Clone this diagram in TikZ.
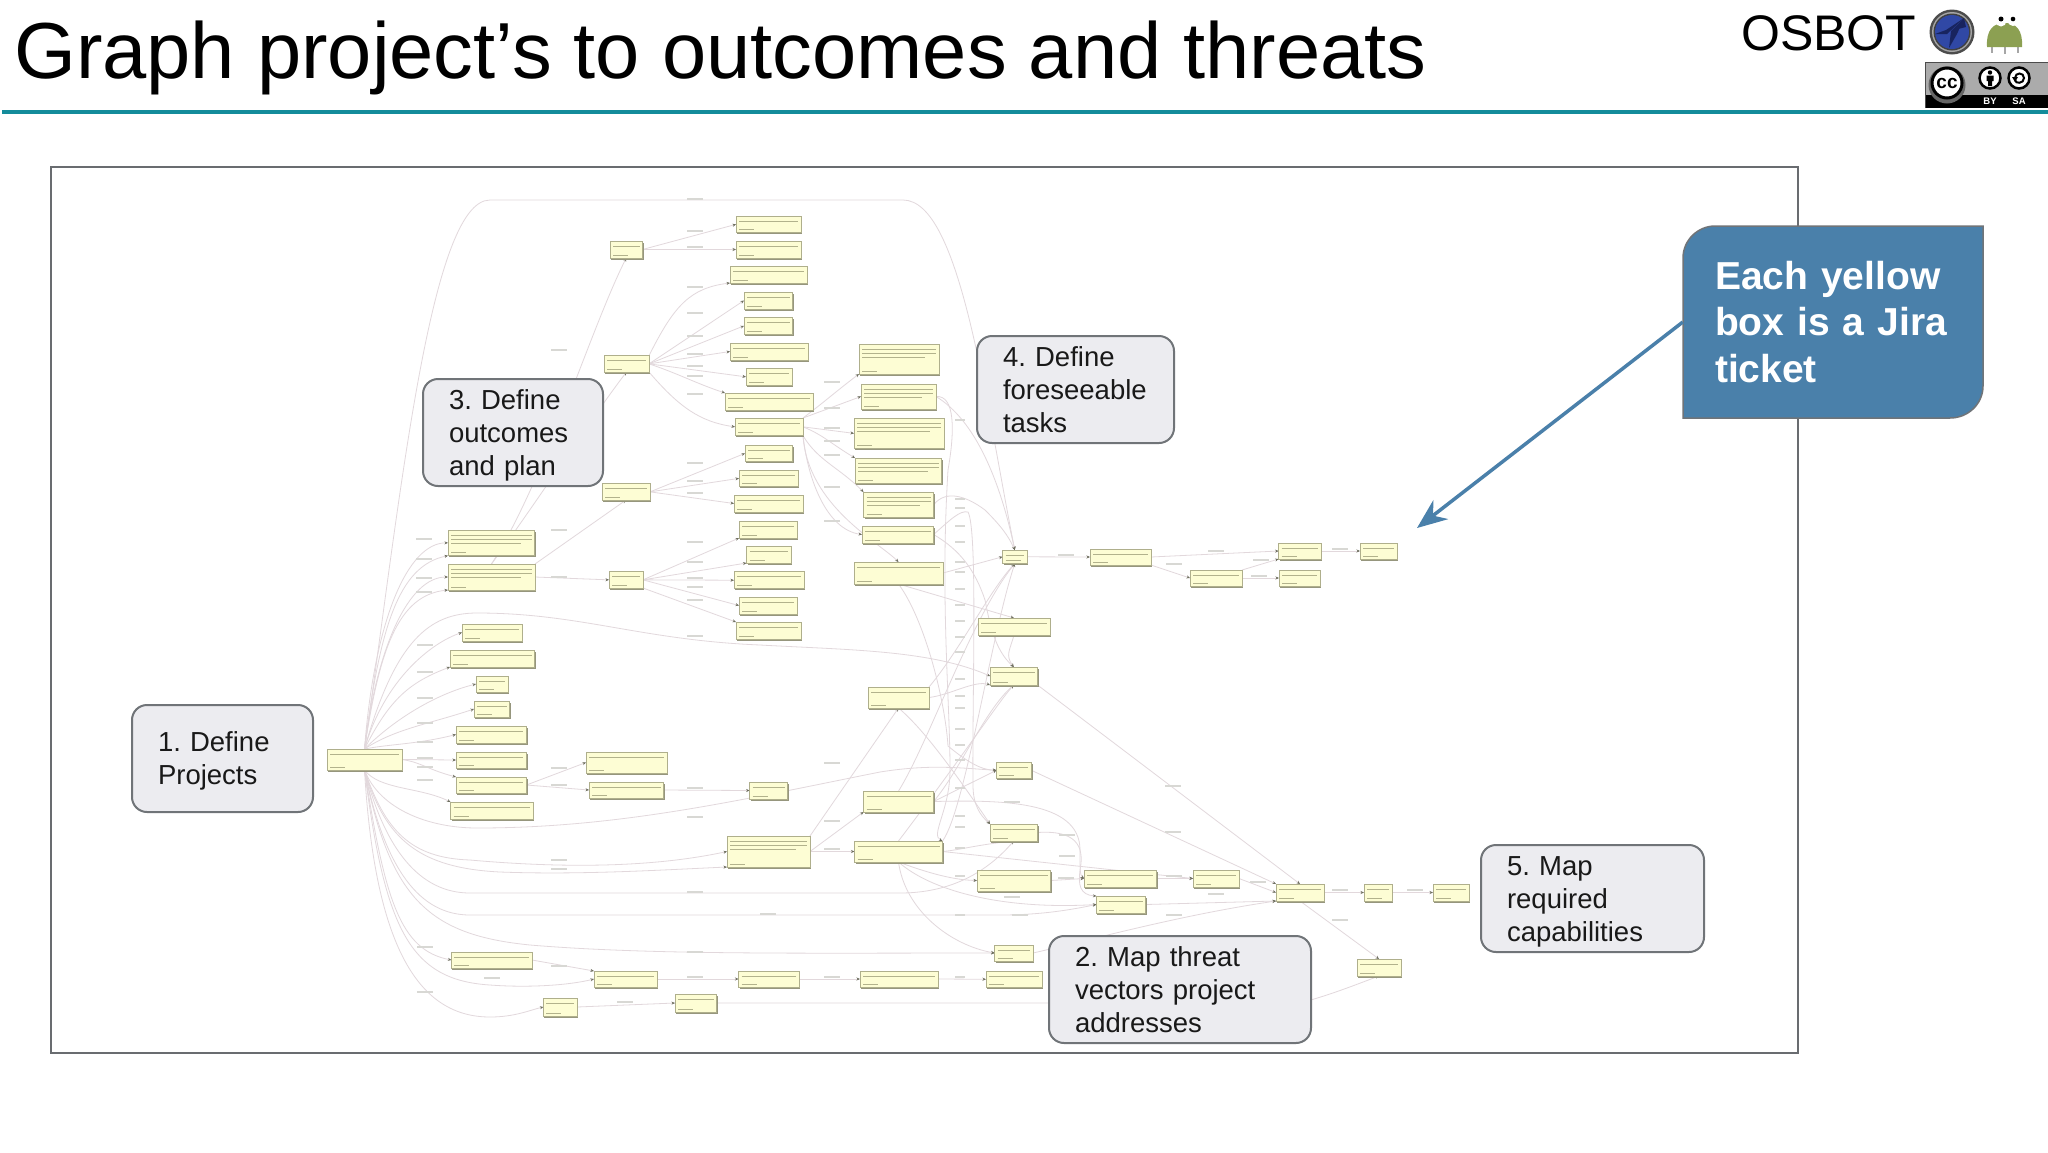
\documentclass[tikz,border=0pt]{standalone}
\usepackage{fontspec}
\setmainfont{Liberation Sans}
\frenchspacing
\usetikzlibrary{arrows.meta}
\definecolor{ecol}{RGB}{226,216,220}
\definecolor{arrc}{RGB}{110,110,95}
\definecolor{labc}{RGB}{216,216,212}
\definecolor{jfill}{RGB}{253,253,212}
\definecolor{jedge}{RGB}{175,175,140}
\definecolor{jshad}{RGB}{150,150,125}
\definecolor{jline}{RGB}{178,178,140}
\definecolor{calfill}{RGB}{236,236,240}
\definecolor{caledge}{RGB}{112,116,120}
\definecolor{bluec}{RGB}{74,128,170}
\definecolor{teal1}{RGB}{20,140,155}
\definecolor{framec}{RGB}{105,108,112}
\definecolor{orbblue}{RGB}{48,72,165}
\definecolor{orbdark}{RGB}{24,36,95}
\definecolor{frogc}{RGB}{140,160,82}
\pgfdeclarelayer{edgelayer}
\pgfdeclarelayer{bglayer}
\pgfsetlayers{bglayer,edgelayer,main}
\tikzset{
  ed/.style={draw=ecol,line width=0.8pt,-{Stealth[length=3.5pt,width=3pt,color=arrc]}},
  jbox/.style={draw=jedge,fill=jfill,line width=0.5pt,inner sep=0pt,outer sep=0pt,
    path picture={
      \draw[jline,line width=0.6pt] ([xshift=3pt,yshift=-5pt]path picture bounding box.north west) -- ([xshift=-3pt,yshift=-5pt]path picture bounding box.north east);
      \draw[jline,line width=0.6pt] ([xshift=3pt,yshift=3pt]path picture bounding box.south west) -- ([xshift=18pt,yshift=3pt]path picture bounding box.south west);
    }},
  jtall/.style={
    path picture={
      \draw[jline,line width=0.6pt] ([xshift=3pt,yshift=-5pt]path picture bounding box.north west) -- ([xshift=-3pt,yshift=-5pt]path picture bounding box.north east);
      \draw[jline,line width=0.6pt] ([xshift=3pt,yshift=-9pt]path picture bounding box.north west) -- ([xshift=-3pt,yshift=-9pt]path picture bounding box.north east);
      \draw[jline,line width=0.6pt] ([xshift=3pt,yshift=-13pt]path picture bounding box.north west) -- ([xshift=-14pt,yshift=-13pt]path picture bounding box.north east);
      \draw[jline,line width=0.6pt] ([xshift=3pt,yshift=3pt]path picture bounding box.south west) -- ([xshift=18pt,yshift=3pt]path picture bounding box.south west);
    }},
  callout/.style={draw=caledge,fill=calfill,line width=2pt,rounded corners=15pt,inner xsep=0pt,inner ysep=0pt,
    align=left,font=\fontsize{27.5}{33}\selectfont,text=black!90},
  edlab/.style={draw=labc,line width=1.5pt},
}
\newcommand\jb[6][]{%
  \fill[jshad] (#3+1,#4+1.5) rectangle (#5+1.2,#6+1.6);
  \node[jbox,#1,minimum width={(#5-#3)*1pt},minimum height={(#6-#4)*1pt}] (#2) at ({(#3+#5)/2},{(#4+#6)/2}) {};
}
\begin{document}
\begin{tikzpicture}[x=1pt,y=-1pt]
\useasboundingbox (0,0) rectangle (2048,1152);
\begin{pgfonlayer}{bglayer}
\fill[white] (0,0) rectangle (2048,1152);
\end{pgfonlayer}

% title
\node[anchor=base west,inner sep=0pt,font=\fontsize{79.5}{84}\selectfont] (title) at (14,78) {Graph project’s to outcomes and threats};
\coordinate (ruleL) at (2,112);
\coordinate (ruleR) at (2048,112);
\draw[teal1,line width=3.5pt] (ruleL) -- (ruleR);

% logo
\node[anchor=base west,inner sep=0pt,font=\fontsize{50}{52}\selectfont] (osbot) at (1741,50) {OSBOT};
\fill[black!70] (1952,32) circle (22.5);
\fill[black!35] (1952,32) circle (20);
\fill[black!75] (1952,32) circle (18.5);
\fill[orbblue] (1952,32) circle (17);
\fill[orbdark] (1964,18) -- (1946,30) -- (1935,34) -- (1947,34) -- cycle;
\fill[orbdark] (1964,18) -- (1951,31) -- (1949,48) -- (1957,34) -- cycle;
\fill[orbdark] (1964,18) -- (1954,30) -- (1966,27) -- cycle;
% frog
\draw[black!35,line width=2pt] (1992,45) -- (1992,53) (2005,45) -- (2005,54) (2018,45) -- (2018,53);
\fill[frogc] (1987,47) .. controls (1986,30) and (1993,23) .. (2005,23) .. controls (2016,23) and (2023,30) .. (2022,47) -- cycle;
\fill[white] (2001,21) circle (5.5) (2013,21) circle (5);
\fill[black] (2001,19) circle (2.5) (2013,19) circle (2.3);

% cc badge
\fill[black!33] (1925,62) rectangle (2048,95);
\fill[black] (1925,95) rectangle (2048,108);
\draw[black!70,line width=1pt] (1925,108) -- (1925,62) -- (2048,62);
\fill[black!60] (1947,85) circle (18.5);
\draw[black,fill=white,line width=3pt] (1947,83) circle (15);
\node[inner sep=0pt,font=\fontsize{19}{20}\selectfont\bfseries] (cclab) at (1947,83) {cc};
\draw[black,fill=white,line width=2.5pt] (1990,78) circle (10.5);
\fill[black] (1990,72.5) circle (2.2);
\fill[black] (1986.5,75.5) rectangle (1993.5,81) (1988,81) rectangle (1992,86);
\draw[black,fill=white,line width=2.5pt] (2019,78) circle (10.5);
\draw[black,line width=2pt] (2015,78) .. controls (2015,72) and (2024,72) .. (2024,78) .. controls (2024,84) and (2015,84) .. (2015,80);
\fill[black] (2012,77) -- (2018,77) -- (2015,82) -- cycle;
\node[inner sep=0pt,text=white,font=\fontsize{9.5}{10}\selectfont\bfseries] (bylab) at (1990,101.5) {BY};
\node[inner sep=0pt,text=white,font=\fontsize{9.5}{10}\selectfont\bfseries] (salab) at (2019,101.5) {SA};

% frame
\draw[framec,line width=2pt] (51,167) rectangle (1798,1053);

% yellow boxes
\jb{m}{327}{749}{402}{770}
\jb{p1}{610}{241}{642.5}{258}
\jb{p2}{604}{355.7}{649}{372}
\jb{p3}{602}{483.7}{650}{500}
\jb{p4}{609}{571.7}{643}{588}
\jb{t1}{736}{216}{801}{232.7}
\jb{t2}{736}{241}{801}{258}
\jb{t3}{730}{266.7}{807}{283}
\jb{t4}{744}{292}{792.5}{309}
\jb{t5}{744}{317.7}{792.5}{334}
\jb{t6}{730}{343}{808}{360}
\jb{t7}{746}{368.7}{792}{385}
\jb{t8}{725}{393}{813}{410}
\jb{t9}{735}{418}{803}{435.7}
\jb{t10}{745}{445}{792.5}{461.7}
\jb{t11}{739}{470}{798}{486.7}
\jb{t12}{734}{495}{803}{512}
\jb{t13}{739}{521.7}{797}{538}
\jb{t14}{746.5}{546.7}{791}{563}
\jb{t15}{734}{571.7}{804}{588.7}
\jb{t16}{739}{597}{797}{614}
\jb{t17}{736}{622}{801}{639}
\jb[jtall]{r1}{859}{344}{939}{374}
\jb[jtall]{r2}{861}{384}{936}{409}
\jb[jtall]{r3}{854}{418.7}{944}{448}
\jb[jtall]{r4}{855}{458}{941.6}{483}
\jb[jtall]{r5}{863.5}{492}{933.6}{517.7}
\jb{r6}{862}{526}{933.6}{543}
\jb{r7}{854}{562}{943}{584}
\jb[jtall]{c1}{448}{530}{534.5}{555.7}
\jb[jtall]{c2}{448}{564}{535}{590}
\jb{d1}{462}{624}{522}{641}
\jb{d2}{450}{650}{534.5}{667}
\jb{d3}{476}{676}{508}{692}
\jb{d4}{474}{701}{509.5}{717}
\jb{d5}{456}{726}{526.4}{743}
\jb{d6}{456}{752}{526.4}{768}
\jb{d7}{456}{777}{526.4}{793}
\jb{d8}{450.5}{802}{533}{819}
\jb{e1}{586}{752}{667}{773}
\jb{e2}{589}{782}{663.5}{798}
\jb{e3}{749.6}{782}{787.6}{799}
\jb{f1}{868}{687}{929}{708}
\jb{f2}{863.5}{791}{933.6}{812}
\jb[jtall]{f3}{727}{836}{810}{867}
\jb{f4}{854.5}{841}{942.5}{862}
\jb{h1}{451.4}{952}{532}{968}
\jb{h2}{594}{971}{657}{987}
\jb{h3}{738.5}{971}{799}{987}
\jb{h4}{860}{971}{938}{987}
\jb{h5}{986}{971}{1042}{987.5}
\jb{i1}{543.4}{998}{577}{1016}
\jb{i2}{675}{994}{716.6}{1012}
\jb{g1}{1002.5}{550}{1027}{563.6}
\jb{g2}{978}{618}{1050}{635}
\jb{g3}{990}{667}{1037.5}{685}
\jb{g4}{996.4}{762}{1031.4}{778.6}
\jb{g5}{990}{824}{1037.5}{841}
\jb{j1}{1090}{549}{1151}{565}
\jb{j2}{1190}{570}{1242}{586}
\jb{j3}{1278.6}{543}{1321}{559}
\jb{j4}{1279}{570}{1320}{586}
\jb{j5}{1360}{543}{1397}{559}
\jb{k1}{977}{870}{1050.7}{891}
\jb{k2}{1084}{870}{1156.4}{887}
\jb{k3}{1193}{870}{1239}{887}
\jb{k4}{1096.4}{896}{1145.7}{913}
\jb{l1}{1276}{884}{1324}{901}
\jb{l2}{1364}{884}{1392}{901}
\jb{l3}{1433}{884}{1469}{901}
\jb{n1}{994.6}{945}{1033}{961}
\jb{n2}{1357}{959}{1401}{976}

% connectors
\begin{pgfonlayer}{edgelayer}
% fan from the project ticket
\draw[ed] (m.north) .. controls +(10,-130) and +(-40,0) .. (c1.west);
\draw[ed] (m.north) .. controls +(15,-120) and +(-50,10) .. (c1.south west);
\draw[ed] (m.north) .. controls +(12,-100) and +(-40,0) .. (c2.west);
\draw[ed] (m.north) .. controls +(15,-100) and +(-50,5) .. (c2.south west);
\draw[ed] (m.north) .. controls +(20,-70) and +(-30,10) .. (d1.west);
\draw[ed] (m.north) .. controls +(25,-50) and +(-40,15) .. (d2.south west);
\draw[ed] (m.north) .. controls +(30,-30) and +(-40,10) .. (d3.west);
\draw[ed] (m.north) .. controls +(30,-20) and +(-45,15) .. (d4.west);
\draw[ed] (m.north) .. controls +(25,-5) and +(-40,10) .. (d5.west);
\draw[ed] (m.east) -- (d6.west);
\draw[ed] (m.east) .. controls +(20,3) and +(-30,-8) .. (d7.north west);
\draw[ed] (m.south) .. controls +(15,20) and +(-30,-15) .. (d8.north west);
% outer arcs
\draw[ed] (m.north) .. controls (400,500) and (430,200) .. (490,200) -- (903,200) .. controls (960,200) and (985,400) .. (g1.north);
\draw[ed] (m.north) .. controls (395,640) and (430,613) .. (477,613) .. controls (580,613) and (640,640) .. (760,645) .. controls (850,650) and (930,650) .. (g3.west);
\draw[ed] (m.south) .. controls (380,810) and (430,828) .. (477,828) .. controls (620,828) and (740,800) .. (880,772) .. controls (930,764) and (960,768) .. (g4.west);
\draw[ed] (m.south) .. controls (385,830) and (410,858) .. (470,860) .. controls (560,868) and (650,868) .. (f3.west);
\draw[ed] (m.south) .. controls (385,840) and (420,868) .. (500,872) .. controls (580,875) and (660,870) .. (f3.south west);
\draw[ed] (m.south) .. controls (385,850) and (420,893) .. (470,893) -- (900,893) .. controls (940,893) and (980,880) .. (g5.south);
\draw[ed] (m.south) .. controls (385,870) and (420,915) .. (470,915) -- (1000,915) .. controls (1040,915) and (1070,910) .. (k4.west);
\draw[ed] (m.south) .. controls (390,900) and (430,935) .. (530,945) .. controls (650,955) and (800,953) .. (n1.west);
\draw[ed] (m.south) .. controls (385,900) and (400,950) .. (h1.west);
\draw[ed] (m.south) .. controls (385,930) and (410,980) .. (490,985) .. controls (530,988) and (570,985) .. (h2.west);
\draw[ed] (m.south) .. controls (375,950) and (420,1017) .. (490,1017) .. controls (515,1017) and (530,1010) .. (i1.west);
% second level
\draw[ed] (c2.north) .. controls (545,480) and (590,330) .. (p1.south);
\draw[ed] (c2.north) .. controls (545,490) and (590,420) .. (p2.south);
\draw[ed] (c2.north east) -- (p3.south);
\draw[ed] (c2.east) -- (p4.west);
\foreach \t in {t1,t2} \draw[ed] (p1.east) -- (\t.west);
\draw[ed] (p2.north east) .. controls +(25,-50) and +(-40,5) .. (t3.south west);
\foreach \t in {t4,t5,t6,t7} \draw[ed] (p2.east) -- (\t.west);
\draw[ed] (p2.east) .. controls +(30,10) and +(-30,-10) .. (t8.north west);
\draw[ed] (p2.south east) .. controls +(30,35) and +(-35,-5) .. (t9.west);
\foreach \t in {t10,t11,t12} \draw[ed] (p3.east) -- (\t.west);
\foreach \t in {t13,t14} \draw[ed] (p4.east) -- (\t.south west);
\draw[ed] (p4.east) -- (t15.west);
\draw[ed] (p4.east) -- (t16.west);
\draw[ed] (p4.south east) -- (t17.north west);
% t9 group
\draw[ed] (t9.north east) .. controls +(20,-15) and +(-20,15) .. (r1.south west);
\draw[ed] (t9.north east) -- (r2.west);
\draw[ed] (t9.east) -- (r3.west);
\draw[ed] (t9.east) .. controls +(20,8) and +(-25,-15) .. (r4.north west);
\draw[ed] (t9.south east) .. controls +(15,25) and +(-25,-25) .. (r5.north west);
\draw[ed] (t9.south east) .. controls +(5,45) and +(-35,-5) .. (r6.west);
\draw[ed] (t9.south east) .. controls +(5,70) and +(-20,-20) .. (r7.north);
% ticket column
\draw[ed] (r2.east) .. controls (955,395) and (955,430) .. (948,470) .. controls (940,600) and (950,700) .. (950,770) .. controls (950,810) and (930,835) .. (f4.north east);
\draw[ed] (r2.east) .. controls (975,420) and (1000,480) .. (g1.north);
\draw[ed] (r5.east) .. controls (945,490) and (965,495) .. (985,510) .. controls (1000,525) and (1008,535) .. (g1.north);
\draw[ed] (r6.east) .. controls (950,520) and (960,510) .. (968,512) .. controls (978,530) and (972,700) .. (973,785) .. controls (973,805) and (980,815) .. (g5.north west);
\draw[ed] (r6.east) .. controls (960,550) and (975,570) .. (985,600) .. controls (990,625) and (995,650) .. (g3.north);
\draw[ed] (r7.east) -- (g1.west);
\draw[ed] (r7.south) .. controls (925,620) and (945,700) .. (948,746) .. controls (965,760) and (980,770) .. (g4.west);
\draw[ed] (f1.north east) .. controls (960,650) and (990,590) .. (g1.south);
\draw[ed] (f1.east) .. controls (950,695) and (975,680) .. (g3.south west);
\draw[ed] (f1.south) .. controls (925,730) and (960,780) .. (g5.north west);
\draw[ed] (f2.north) .. controls (930,740) and (970,620) .. (g1.south);
\draw[ed] (f2.east) -- (g4.west);
\draw[ed] (f2.east) .. controls (960,770) and (985,710) .. (g3.south);
\draw[ed] (f2.east) .. controls (1000,800) and (1080,800) .. (1080,850) .. controls (1080,870) and (1080,875) .. (k2.west);
\draw[ed] (f3.north east) -- (f1.south);
\draw[ed] (f3.east) -- (f2.south west);
\draw[ed] (f3.east) -- (f4.west);
\draw[ed] (f4.north east) .. controls (965,810) and (990,640) .. (g1.south);
\draw[ed] (f4.east) .. controls (960,850) and (975,845) .. (g5.south);
\draw[ed] (f4.east) -- (k3.west);
\draw[ed] (f4.north) .. controls (960,760) and (1000,700) .. (g3.south);
\draw[ed] (f4.south) .. controls (920,870) and (950,880) .. (k1.west);
\draw[ed] (f4.south) .. controls (930,890) and (1000,910) .. (k4.west);
\draw[ed] (f4.south) .. controls (905,910) and (950,945) .. (n1.west);
\draw[ed] (r7.south) -- (g2.north);
\draw[ed] (g2.south) .. controls (1010,650) and (1005,655) .. (g3.north);
% right side chains
\draw[ed] (g1.east) -- (j1.west);
\draw[ed] (j1.east) -- (j3.west);
\draw[ed] (j1.south east) -- (j2.west);
\draw[ed] (j2.north east) -- (j3.south west);
\draw[ed] (j2.east) -- (j4.west);
\draw[ed] (j3.east) -- (j5.west);
\draw[ed] (g3.south east) -- (l1.north);
\draw[ed] (g4.east) -- (l1.north west);
\draw[ed] (g5.east) .. controls (1075,830) and (1085,845) .. (1080,870) .. controls (1078,885) and (1080,895) .. (k4.north west);
\draw[ed] (k1.east) -- (k2.west);
\draw[ed] (k2.east) -- (k3.west);
\draw[ed] (k3.east) -- (l1.west);
\draw[ed] (k4.east) -- (l1.south west);
\draw[ed] (n1.east) .. controls (1090,940) and (1180,915) .. (l1.south west);
\draw[ed] (l1.east) -- (l2.west);
\draw[ed] (l2.east) -- (l3.west);
\draw[ed] (l1.south) -- (n2.north);
% lower chains
\draw[ed] (d7.east) -- (e1.west);
\draw[ed] (d7.east) -- (e2.west);
\draw[ed] (e2.east) -- (e3.west);
\draw[ed] (h1.east) -- (h2.north west);
\draw[ed] (h2.east) -- (h3.west);
\draw[ed] (h3.east) -- (h4.west);
\draw[ed] (h4.east) -- (h5.west);
\draw[ed] (i1.east) -- (i2.west);
\draw[ed] (i2.east) -- (1040,1003) -- (1300,1003) .. controls (1330,995) and (1355,985) .. (n2.south);
\end{pgfonlayer}

% edge label marks
\foreach \px/\py in {
 695/199,695/231,695/247,695/287,695/313,695/336,695/354,695/366,695/376,695/394,695/463,695/481,695/493,695/542,695/562,695/578,695/587,695/600,
 559/350,559/530,559/577,424/539,424/559,424/578,424/592,
 832/382,832/408,832/428,832/441,832/455,832/487,832/521,
 695/636,425/645,425/672,425/698,425/723,425/742,425/758,425/767,425/780,559/768,559/785,695/788,832/763,832/821,832/849,695/817,559/860,559/869,695/892,768/914,695/952,425/947,559/966,492/978,425/992,695/977,832/977,625/1002,
 1066/555,1216/551,1174/564,1261/560,1259/576,1340/549,1173/786,1173/832,1012/802,1067/835,1067/856,1066/878,1174/876,1258/882,1216/894,1340/890,1415/890,1174/915,1340/920,1012/897,1020/915}
{\draw[edlab] (\px-8,\py) -- (\px+8,\py);}
\foreach \py in {420,499,508,526,542,562,572,589,605,621,637,652,679,696,708,729,745,760,788,816,827,848,876,915,977}
{\draw[edlab] (955,\py) -- (965,\py);}

% callouts
\node[callout,minimum width=181pt,minimum height=107pt,text width=129pt] (k1call) at (222.5,758.5) {\rule{0pt}{24pt}1. Define\\Projects};
\node[callout,minimum width=180pt,minimum height=107pt,text width=128pt] (k3call) at (513,432.5) {\rule{0pt}{26pt}3. Define\\outcomes\\and plan};
\node[callout,minimum width=197pt,minimum height=107pt,text width=145pt] (k4call) at (1075.5,389.5) {4. Define\\foreseeable\\tasks};
\node[callout,minimum width=262pt,minimum height=107pt,text width=210pt] (k2call) at (1180,989.5) {2. Map threat\\vectors project\\addresses};
\node[callout,minimum width=223pt,minimum height=107pt,text width=171pt] (k5call) at (1592.5,898.5) {\rule{0pt}{26pt}5. Map\\required\\capabilities};

% blue callout
\draw[caledge,fill=bluec,line width=1.5pt] (1683,418) -- (1683,258) .. controls (1683,240) and (1698,226) .. (1715,226) -- (1983,226) -- (1983,386) .. controls (1983,404) and (1968,418) .. (1950,418) -- cycle;
\node[inner sep=0pt,minimum width=300pt,minimum height=192pt,text width=236pt,align=left,text=white,font=\fontsize{39}{46.7}\selectfont\bfseries] (blue) at (1833,322) {Each yellow\\box is a Jira\\ticket};
\coordinate (bluetip) at (1417,528);
\draw[bluec,line width=3.5pt,-{Stealth[length=30pt,width=24pt]}] (blue.west) -- (bluetip);
\end{tikzpicture}
\end{document}
